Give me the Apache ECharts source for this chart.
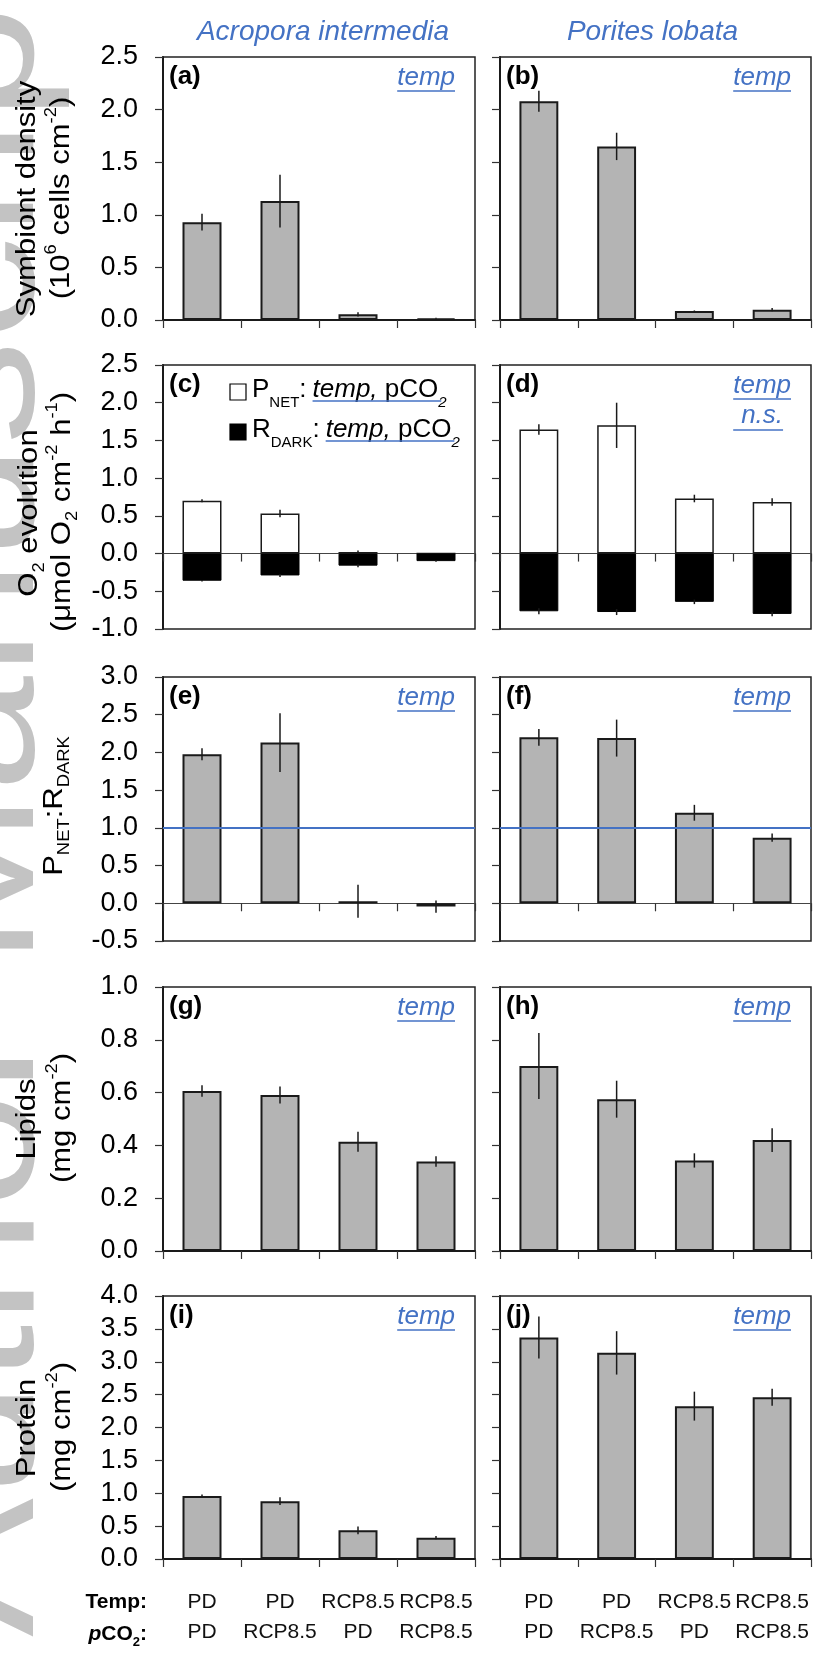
<!DOCTYPE html>
<html>
<head>
<meta charset="utf-8">
<script src="https://cdn.jsdelivr.net/npm/echarts@6/dist/echarts.min.js"></script>
<style>
  html, body { margin: 0; padding: 0; background: #fff; }
  #chart { width: 825px; height: 1660px; }
</style>
</head>
<body>
<div id="chart"></div>
<script>
// treatments (x axis)
var tempLevels = ['PD', 'PD', 'RCP8.5', 'RCP8.5'];
var co2Levels = ['PD', 'RCP8.5', 'PD', 'RCP8.5'];
var speciesNames = ['Acropora intermedia', 'Porites lobata'];

// y axis ranges per row
var yMin = [0, -1, -0.5, 0, 0];
var yMax = [2.5, 2.5, 3, 1, 4];
var yStep = [0.5, 0.5, 0.5, 0.2, 0.5];

// symbiont density (10^6 cells cm-2)
var symbiontAcro = [0.93, 1.13, 0.054, 0.016];
var symbiontAcroErr = [0.08, 0.25, 0.02, 0.005];
var symbiontPor = [2.08, 1.65, 0.086, 0.098];
var symbiontPorErr = [0.10, 0.13, 0.005, 0.015];

// O2 evolution (umol O2 cm-2 h-1)
var pnetAcro = [0.70, 0.53, 0.02, 0];
var pnetAcroErr = [0.02, 0.05, 0.02, 0];
var rdarkAcro = [-0.36, -0.29, -0.16, -0.10];
var rdarkAcroErr = [0.01, 0.02, 0.02, 0.01];
var pnetPor = [1.645, 1.70, 0.73, 0.685];
var pnetPorErr = [0.07, 0.30, 0.05, 0.05];
var rdarkPor = [-0.765, -0.775, -0.64, -0.80];
var rdarkPorErr = [0.04, 0.04, 0.03, 0.03];

// PNET:RDARK
var ratioAcro = [1.976, 2.13, 0.027, -0.044];
var ratioAcroErr = [0.08, 0.39, 0.22, 0.08];
var ratioPor = [2.20, 2.19, 1.20, 0.87];
var ratioPorErr = [0.11, 0.245, 0.105, 0.055];
var ratioRef = 1.0;

// lipids (mg cm-2)
var lipidAcro = [0.606, 0.591, 0.414, 0.339];
var lipidAcroErr = [0.022, 0.032, 0.038, 0.02];
var lipidPor = [0.701, 0.575, 0.343, 0.42];
var lipidPorErr = [0.125, 0.07, 0.027, 0.045];

// protein (mg cm-2)
var proteinAcro = [0.96, 0.88, 0.436, 0.324];
var proteinAcroErr = [0.02, 0.06, 0.06, 0.025];
var proteinPor = [3.37, 3.135, 2.325, 2.46];
var proteinPorErr = [0.32, 0.33, 0.22, 0.13];

var categories = tempLevels.map(function (t, i) { return t + '\n' + co2Levels[i]; });

// layout
var colX = [163, 500], colW = [312, 311];
var rowY = [57, 365, 677, 987, 1296], rowH = [263, 264, 264, 264, 263];
var FONT = '"Liberation Sans", Arial, sans-serif';
var BLUE = '#4472c4';
var INK = '#1a1a1a';

var ctx = document.createElement('canvas').getContext('2d');
function textW(str, size, style) {
  ctx.font = (style || '') + ' ' + size + 'px "Liberation Sans"';
  return ctx.measureText(str).width;
}

function errorBar(params, api) {
  var i = api.value(0), m = api.value(1), e = api.value(2);
  if (!e) return null;
  var p1 = api.coord([i, m + e]);
  var p2 = api.coord([i, m - e]);
  return {
    type: 'line',
    shape: { x1: p1[0], y1: p1[1], x2: p2[0], y2: p2[1] },
    style: { stroke: INK, lineWidth: 1.5 }
  };
}

var grids = [], xAxes = [], yAxes = [], series = [], graphics = [];

function barSeries(idx, vals, color, extra) {
  var s = {
    type: 'bar', xAxisIndex: idx, yAxisIndex: idx, data: vals,
    barWidth: '50%', barGap: '-100%', silent: true,
    itemStyle: { color: color, borderColor: INK, borderWidth: 2 }
  };
  if (extra) Object.assign(s, extra);
  series.push(s);
}
function errSeries(idx, vals, errs) {
  series.push({
    type: 'custom', xAxisIndex: idx, yAxisIndex: idx, z: 5, silent: true,
    renderItem: errorBar, encode: { x: 0, y: 1 },
    data: vals.map(function (v, i) { return [i, v, errs[i]]; })
  });
}

var panelData = [
  [[symbiontAcro, symbiontAcroErr], [symbiontPor, symbiontPorErr]],
  null,
  [[ratioAcro, ratioAcroErr], [ratioPor, ratioPorErr]],
  [[lipidAcro, lipidAcroErr], [lipidPor, lipidPorErr]],
  [[proteinAcro, proteinAcroErr], [proteinPor, proteinPorErr]]
];
var o2Data = [
  [pnetAcro, pnetAcroErr, rdarkAcro, rdarkAcroErr],
  [pnetPor, pnetPorErr, rdarkPor, rdarkPorErr]
];

for (var r = 0; r < 5; r++) {
  for (var c = 0; c < 2; c++) {
    var idx = r * 2 + c;
    var midZero = yMin[r] < 0;
    grids.push({
      left: colX[c], top: rowY[r], width: colW[c], height: rowH[r],
      show: true, borderColor: '#222', borderWidth: 1.5, backgroundColor: 'transparent'
    });
    xAxes.push({
      gridIndex: idx, type: 'category', data: categories, boundaryGap: true,
      axisLine: { onZero: true, lineStyle: { color: midZero ? '#444' : INK, width: midZero ? 1 : 2 } },
      axisTick: { show: true, length: 8, lineStyle: { color: '#333', width: 1.2 } },
      axisLabel: {
        show: r === 4, interval: 0, margin: 28, fontFamily: FONT, fontSize: 21,
        color: '#111', lineHeight: 30, verticalAlign: 'top'
      },
      splitLine: { show: false }
    });
    yAxes.push({
      gridIndex: idx, type: 'value', min: yMin[r], max: yMax[r], interval: yStep[r],
      axisLine: { show: true, onZero: false, lineStyle: { color: INK, width: 2 } },
      axisTick: { show: true, length: 8, lineStyle: { color: '#333', width: 1.2 } },
      axisLabel: {
        show: c === 0, margin: 25, fontFamily: FONT, fontSize: 27, color: '#000',
        formatter: function (v) { return v.toFixed(1); }
      },
      splitLine: { show: false }
    });

    if (r === 1) {
      var d = o2Data[c];
      barSeries(idx, d[0], '#ffffff', { itemStyle: { color: '#fff', borderColor: INK, borderWidth: 1.5 } });
      barSeries(idx, d[2], '#000000', { itemStyle: { color: '#000', borderColor: '#000', borderWidth: 1 } });
      errSeries(idx, d[0], d[1]);
      errSeries(idx, d[2], d[3]);
    } else {
      var pd = panelData[r][c];
      var extra = null;
      if (r === 2) {
        extra = {
          markLine: {
            silent: true, symbol: 'none', label: { show: false },
            lineStyle: { color: BLUE, width: 2, type: 'solid' },
            data: [{ yAxis: ratioRef }]
          }
        };
      }
      barSeries(idx, pd[0], '#b4b4b4', extra);
      errSeries(idx, pd[0], pd[1]);
    }
  }
}

// ---- annotations ----
function txt(x, y, text, size, opts) {
  var o = opts || {};
  graphics.push({
    type: 'text', x: x, y: y, rotation: o.rotation || 0, scaleX: o.scaleX || 1, z: 10,
    style: {
      text: text, fontSize: size, fontFamily: FONT,
      fontWeight: o.weight || 'normal', fontStyle: o.style || 'normal',
      fill: o.color || '#000', align: o.align || 'left', verticalAlign: 'middle',
      rich: o.rich
    }
  });
}
function uline(x1, x2, y) {
  graphics.push({
    type: 'line', z: 10,
    shape: { x1: x1, y1: y, x2: x2, y2: y },
    style: { stroke: BLUE, lineWidth: 1.5 }
  });
}

// watermark
graphics.push({
  type: 'text', x: 72, y: 1637, rotation: Math.PI / 2, scaleX: 1.19, z: 0,
  style: {
    text: 'Author Manuscript', fontSize: 175, fontFamily: FONT,
    fill: '#c3c3c3', align: 'left', verticalAlign: 'bottom'
  }
});

// species headers
txt(colX[0] + colW[0] / 2 + 4, 32, speciesNames[0], 28, { style: 'italic', color: BLUE, align: 'center' });
txt(colX[1] + colW[1] / 2 - 3, 32, speciesNames[1], 28, { style: 'italic', color: BLUE, align: 'center' });

// panel tags and significance
var tags = 'abcdefghij';
for (var r2 = 0; r2 < 5; r2++) {
  for (var c2 = 0; c2 < 2; c2++) {
    var k = r2 * 2 + c2;
    txt(colX[c2] + 6, rowY[r2] + 20, '(' + tags[k] + ')', 26, { weight: 'bold' });
    if (k === 2) continue;
    var right = colX[c2] + colW[c2] - 20;
    var cy = rowY[r2] + 21;
    var w = textW('temp', 26, 'italic');
    txt(right, cy, 'temp', 26, { style: 'italic', color: BLUE, align: 'right' });
    uline(right - w, right, cy + 13);
    if (k === 3) {
      var nsW = textW('n.s.', 26, 'italic');
      var mid = right - w / 2;
      txt(mid, cy + 30, 'n.s.', 26, { style: 'italic', color: BLUE, align: 'center' });
      uline(right - w, mid + nsW / 2, cy + 44);
    }
  }
}

// legend in panel (c)
var legendRows = [
  { fill: '#fff', main: 'P', sub: 'NET', y: rowY[1] + 25 },
  { fill: '#000', main: 'R', sub: 'DARK', y: rowY[1] + 65 }
];
var subRich = {
  m: { fontSize: 26, fontFamily: FONT, lineHeight: 40, color: '#000' },
  s: { fontSize: 15, fontFamily: FONT, lineHeight: 14, verticalAlign: 'bottom', color: '#000' },
  i: { fontSize: 26, fontFamily: FONT, fontStyle: 'italic', lineHeight: 40, color: BLUE },
  b: { fontSize: 26, fontFamily: FONT, lineHeight: 40, color: BLUE },
  bs: { fontSize: 15, fontFamily: FONT, fontStyle: 'italic', lineHeight: 14, verticalAlign: 'bottom', color: BLUE }
};
legendRows.forEach(function (row) {
  var sx = colX[0] + 67;
  graphics.push({
    type: 'rect', z: 10,
    shape: { x: sx, y: row.y - 6, width: 16, height: 16 },
    style: { fill: row.fill, stroke: '#000', lineWidth: 1.2 }
  });
  var tx = sx + 22;
  txt(tx, row.y, '{m|' + row.main + '}{s|' + row.sub + '}{m|:}', 26, { rich: subRich });
  var bw = textW(row.main, 26) + textW(row.sub, 15) + textW(':', 26);
  var bx = tx + bw + 6;
  txt(bx, row.y, '{i|temp,}{b| pCO}{bs|2}', 26, { rich: subRich });
  uline(bx, bx + textW('temp,', 26, 'italic') + textW(' pCO', 26) + 3, row.y + 11);
});

// y axis titles (rotated)
var axRich = {
  m: { fontSize: 27, fontFamily: FONT, lineHeight: 36, color: '#000' },
  sup: { fontSize: 16, fontFamily: FONT, lineHeight: 14, verticalAlign: 'top', color: '#000' },
  sub: { fontSize: 16, fontFamily: FONT, lineHeight: 14, verticalAlign: 'bottom', color: '#000' }
};
var axisTitles = [
  { x: 28, y: 199, t: '{m|Symbiont density}' },
  { x: 62, y: 198, t: '{m|(10}{sup|6}{m| cells cm}{sup|-2}{m|)}' },
  { x: 30, y: 513, t: '{m|O}{sub|2}{m| evolution}' },
  { x: 63, y: 512, t: '{m|(μmol O}{sub|2}{m| cm}{sup|-2}{m| h}{sup|-1}{m|)}' },
  { x: 55, y: 806, t: '{m|P}{sub|NET}{m|:R}{sub|DARK}' },
  { x: 28, y: 1119, t: '{m|Lipids}' },
  { x: 63, y: 1118, t: '{m|(mg cm}{sup|-2}{m|)}' },
  { x: 28, y: 1428, t: '{m|Protein}' },
  { x: 63, y: 1427, t: '{m|(mg cm}{sup|-2}{m|)}' }
];
axisTitles.forEach(function (a) {
  txt(a.x, a.y, a.t, 27, { rotation: Math.PI / 2, scaleX: 1.15, align: 'center', rich: axRich });
});

// x row headers
txt(147, 1602, 'Temp:', 21, { weight: 'bold', align: 'right' });
txt(147, 1634, '{p|p}{b|CO}{s|2}{b|:}', 21, {
  align: 'right',
  rich: {
    p: { fontSize: 21, fontFamily: FONT, fontWeight: 'bold', fontStyle: 'italic', lineHeight: 30 },
    b: { fontSize: 21, fontFamily: FONT, fontWeight: 'bold', lineHeight: 30 },
    s: { fontSize: 13, fontFamily: FONT, fontWeight: 'bold', lineHeight: 12, verticalAlign: 'bottom' }
  }
});

var chart = echarts.init(document.getElementById('chart'));
chart.setOption({
  backgroundColor: '#fff',
  animation: false,
  grid: grids,
  xAxis: xAxes,
  yAxis: yAxes,
  series: series,
  graphic: { elements: graphics }
});
</script>
</body>
</html>
